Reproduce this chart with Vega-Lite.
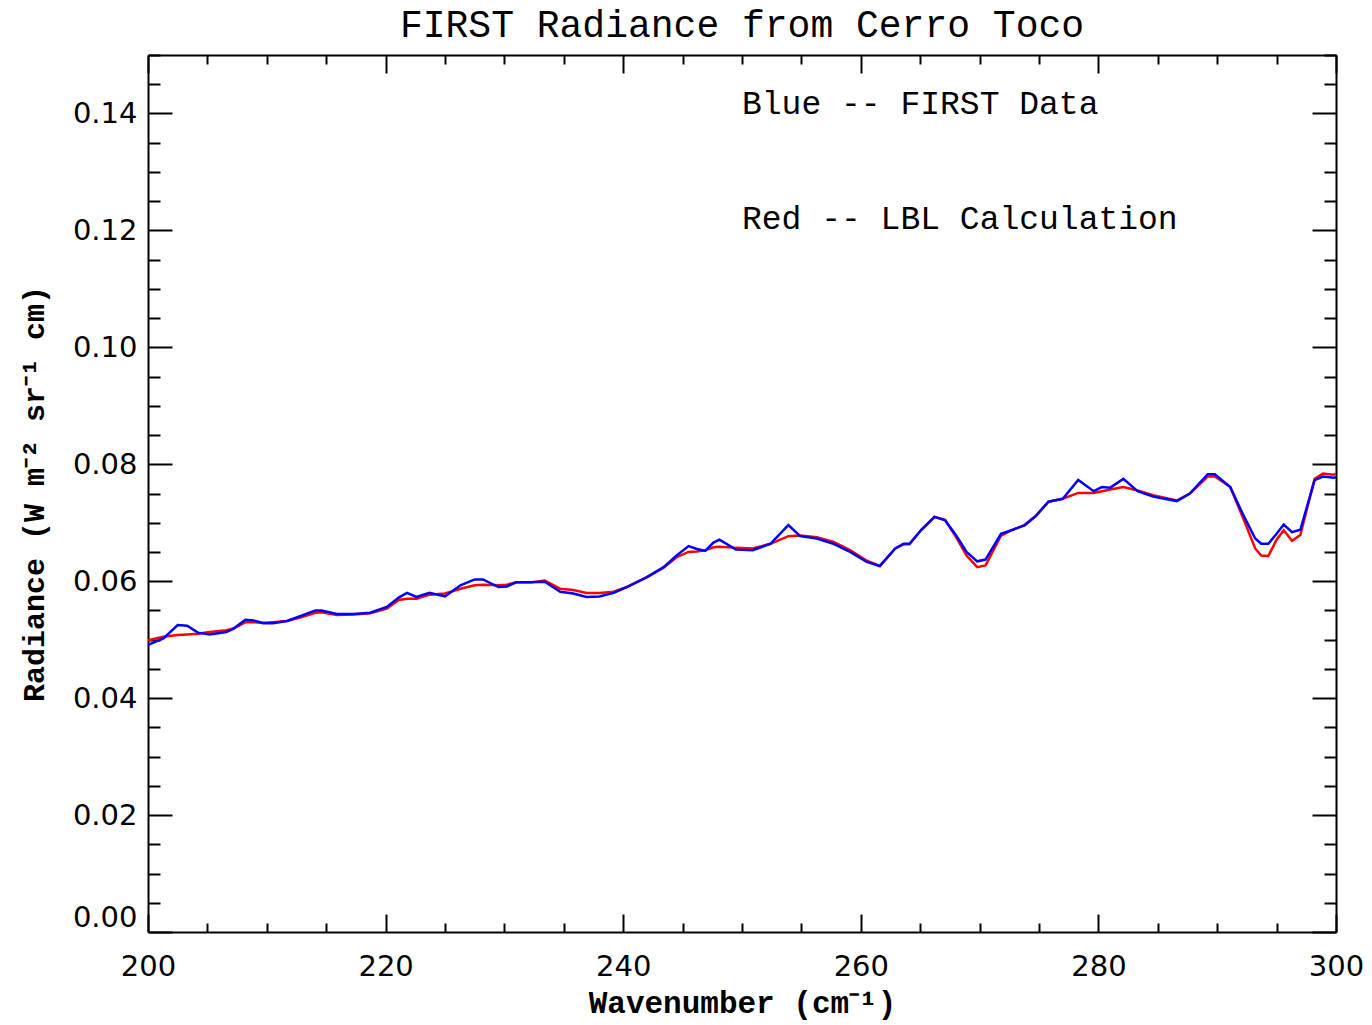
{
  "$schema": "https://vega.github.io/schema/vega-lite/v6.json",
  "width": 1188,
  "height": 877,
  "autosize": {"type": "none"},
  "padding": {"left": 148, "top": 55, "right": 36, "bottom": 93},
  "background": "white",
  "title": {"text": "FIRST Radiance from Cerro Toco", "font": "Liberation Mono", "fontSize": 38, "fontWeight": "normal", "color": "black", "anchor": "middle", "offset": 9},
  "config": {"view": {"stroke": null}},
  "datasets": {
    "spec": [
      {"wn": 200.0, "first": 0.0491, "lbl": 0.0499},
      {"wn": 201.3, "first": 0.0502, "lbl": 0.0505},
      {"wn": 202.5, "first": 0.0525, "lbl": 0.0508},
      {"wn": 203.3, "first": 0.0524, "lbl": 0.0509},
      {"wn": 204.2, "first": 0.0512, "lbl": 0.0510},
      {"wn": 205.2, "first": 0.0509, "lbl": 0.0513},
      {"wn": 206.6, "first": 0.0513, "lbl": 0.0516},
      {"wn": 207.2, "first": 0.0519, "lbl": 0.0519},
      {"wn": 208.2, "first": 0.0534, "lbl": 0.0530},
      {"wn": 208.9, "first": 0.0533, "lbl": 0.0530},
      {"wn": 209.7, "first": 0.0528, "lbl": 0.0529},
      {"wn": 210.5, "first": 0.0528, "lbl": 0.0530},
      {"wn": 211.7, "first": 0.0532, "lbl": 0.0532},
      {"wn": 212.8, "first": 0.0540, "lbl": 0.0538},
      {"wn": 214.1, "first": 0.0550, "lbl": 0.0546},
      {"wn": 214.6, "first": 0.0550, "lbl": 0.0547},
      {"wn": 215.9, "first": 0.0544, "lbl": 0.0542},
      {"wn": 217.3, "first": 0.0544, "lbl": 0.0543},
      {"wn": 218.7, "first": 0.0546, "lbl": 0.0545},
      {"wn": 220.1, "first": 0.0556, "lbl": 0.0553},
      {"wn": 221.1, "first": 0.0572, "lbl": 0.0568},
      {"wn": 221.8, "first": 0.0580, "lbl": 0.0570},
      {"wn": 222.6, "first": 0.0573, "lbl": 0.0570},
      {"wn": 223.7, "first": 0.0580, "lbl": 0.0577},
      {"wn": 225.0, "first": 0.0574, "lbl": 0.0579},
      {"wn": 226.3, "first": 0.0593, "lbl": 0.0587},
      {"wn": 227.5, "first": 0.0603, "lbl": 0.0593},
      {"wn": 228.2, "first": 0.0603, "lbl": 0.0594},
      {"wn": 229.5, "first": 0.0590, "lbl": 0.0593},
      {"wn": 230.2, "first": 0.0591, "lbl": 0.0594},
      {"wn": 231.0, "first": 0.0598, "lbl": 0.0598},
      {"wn": 232.2, "first": 0.0598, "lbl": 0.0598},
      {"wn": 233.4, "first": 0.0599, "lbl": 0.0601},
      {"wn": 234.7, "first": 0.0582, "lbl": 0.0587},
      {"wn": 235.8, "first": 0.0579, "lbl": 0.0585},
      {"wn": 236.9, "first": 0.0573, "lbl": 0.0580},
      {"wn": 238.0, "first": 0.0574, "lbl": 0.0580},
      {"wn": 239.2, "first": 0.0580, "lbl": 0.0582},
      {"wn": 240.3, "first": 0.0590, "lbl": 0.0590},
      {"wn": 242.0, "first": 0.0607, "lbl": 0.0607},
      {"wn": 243.4, "first": 0.0624, "lbl": 0.0623},
      {"wn": 244.5, "first": 0.0644, "lbl": 0.0641},
      {"wn": 245.5, "first": 0.0660, "lbl": 0.0650},
      {"wn": 246.2, "first": 0.0655, "lbl": 0.0651},
      {"wn": 246.9, "first": 0.0652, "lbl": 0.0653},
      {"wn": 247.6, "first": 0.0666, "lbl": 0.0658},
      {"wn": 248.1, "first": 0.0671, "lbl": 0.0659},
      {"wn": 249.5, "first": 0.0654, "lbl": 0.0657},
      {"wn": 250.9, "first": 0.0653, "lbl": 0.0656},
      {"wn": 252.4, "first": 0.0664, "lbl": 0.0664},
      {"wn": 253.9, "first": 0.0696, "lbl": 0.0677},
      {"wn": 254.9, "first": 0.0677, "lbl": 0.0678},
      {"wn": 256.3, "first": 0.0673, "lbl": 0.0675},
      {"wn": 257.7, "first": 0.0664, "lbl": 0.0667},
      {"wn": 259.1, "first": 0.0650, "lbl": 0.0653},
      {"wn": 260.5, "first": 0.0633, "lbl": 0.0635},
      {"wn": 261.6, "first": 0.0626, "lbl": 0.0626},
      {"wn": 262.9, "first": 0.0656, "lbl": 0.0656},
      {"wn": 263.6, "first": 0.0664, "lbl": 0.0663},
      {"wn": 264.1, "first": 0.0664, "lbl": 0.0663},
      {"wn": 265.1, "first": 0.0688, "lbl": 0.0688},
      {"wn": 266.2, "first": 0.0710, "lbl": 0.0710},
      {"wn": 267.1, "first": 0.0704, "lbl": 0.0705},
      {"wn": 268.1, "first": 0.0676, "lbl": 0.0673},
      {"wn": 268.9, "first": 0.0650, "lbl": 0.0644},
      {"wn": 269.8, "first": 0.0634, "lbl": 0.0624},
      {"wn": 270.5, "first": 0.0637, "lbl": 0.0627},
      {"wn": 271.8, "first": 0.0681, "lbl": 0.0678},
      {"wn": 272.8, "first": 0.0688, "lbl": 0.0688},
      {"wn": 273.8, "first": 0.0696, "lbl": 0.0696},
      {"wn": 274.7, "first": 0.0711, "lbl": 0.0711},
      {"wn": 275.8, "first": 0.0736, "lbl": 0.0736},
      {"wn": 277.0, "first": 0.0741, "lbl": 0.0741},
      {"wn": 278.3, "first": 0.0773, "lbl": 0.0751},
      {"wn": 279.6, "first": 0.0754, "lbl": 0.0751},
      {"wn": 280.3, "first": 0.0761, "lbl": 0.0754},
      {"wn": 281.0, "first": 0.0760, "lbl": 0.0757},
      {"wn": 282.1, "first": 0.0775, "lbl": 0.0761},
      {"wn": 283.3, "first": 0.0754, "lbl": 0.0755},
      {"wn": 284.6, "first": 0.0745, "lbl": 0.0747},
      {"wn": 286.6, "first": 0.0737, "lbl": 0.0738},
      {"wn": 287.7, "first": 0.0750, "lbl": 0.0750},
      {"wn": 289.2, "first": 0.0783, "lbl": 0.0779},
      {"wn": 289.8, "first": 0.0783, "lbl": 0.0779},
      {"wn": 291.1, "first": 0.0761, "lbl": 0.0761},
      {"wn": 292.2, "first": 0.0713, "lbl": 0.0707},
      {"wn": 293.2, "first": 0.0673, "lbl": 0.0656},
      {"wn": 293.7, "first": 0.0664, "lbl": 0.0644},
      {"wn": 294.3, "first": 0.0664, "lbl": 0.0643},
      {"wn": 295.0, "first": 0.0681, "lbl": 0.0671},
      {"wn": 295.6, "first": 0.0697, "lbl": 0.0687},
      {"wn": 296.3, "first": 0.0684, "lbl": 0.0669},
      {"wn": 297.0, "first": 0.0688, "lbl": 0.0679},
      {"wn": 298.2, "first": 0.0773, "lbl": 0.0775},
      {"wn": 298.9, "first": 0.0779, "lbl": 0.0784},
      {"wn": 299.8, "first": 0.0777, "lbl": 0.0782},
      {"wn": 300.0, "first": 0.0778, "lbl": 0.0784}
    ],
    "notes": [
      {"wn": 250, "v": 0.1417, "label": "Blue -- FIRST Data"},
      {"wn": 250, "v": 0.1219, "label": "Red -- LBL Calculation"}
    ]
  },
  "layer": [
    {
      "data": {"name": "spec"},
      "mark": {"type": "line", "color": "#ff0000", "strokeWidth": 2.5, "clip": true},
      "encoding": {
        "x": {"field": "wn", "type": "quantitative", "scale": {"domain": [200, 300], "nice": false, "zero": false},
          "axis": {"orient": "top", "title": null, "labels": false,
            "values": [200,205,210,215,220,225,230,235,240,245,250,255,260,265,270,275,280,285,290,295,300],
            "tickSize": {"condition": {"test": "datum.value % 20 === 0", "value": -18}, "value": -9},
            "tickColor": "black", "tickWidth": 2, "domainColor": "black", "domainWidth": 2, "grid": false}},
        "y": {"field": "lbl", "type": "quantitative", "scale": {"domain": [0, 0.15], "nice": false},
          "axis": {"orient": "right", "title": null, "labels": false,
            "values": [0,0.005,0.01,0.015,0.02,0.025,0.03,0.035,0.04,0.045,0.05,0.055,0.06,0.065,0.07,0.075,0.08,0.085,0.09,0.095,0.1,0.105,0.11,0.115,0.12,0.125,0.13,0.135,0.14,0.145,0.15],
            "tickSize": {"condition": {"test": "abs(round(datum.value*1000)) % 20 === 0", "value": -24}, "value": -12},
            "tickColor": "black", "tickWidth": 2, "domainColor": "black", "domainWidth": 2, "grid": false}}
      }
    },
    {
      "data": {"name": "spec"},
      "mark": {"type": "line", "color": "#0000ff", "strokeWidth": 2.5, "clip": true},
      "encoding": {
        "x": {"field": "wn", "type": "quantitative", "scale": {"domain": [200, 300], "nice": false, "zero": false},
          "axis": {"orient": "bottom", "title": "Wavenumber (cm⁻¹)",
            "values": [200,205,210,215,220,225,230,235,240,245,250,255,260,265,270,275,280,285,290,295,300],
            "labelExpr": "datum.value % 20 === 0 ? datum.label : ''",
            "labelFlush": false, "labelOverlap": false,
            "labelFont": "DejaVu Sans", "labelFontSize": 29, "labelColor": "black", "labelPadding": 38,
            "titleFont": "Liberation Mono", "titleFontSize": 31, "titleFontWeight": "bold", "titleColor": "black", "titlePadding": -2,
            "tickSize": {"condition": {"test": "datum.value % 20 === 0", "value": -18}, "value": -9},
            "tickColor": "black", "tickWidth": 2, "domainColor": "black", "domainWidth": 2, "grid": false}},
        "y": {"field": "first", "type": "quantitative", "scale": {"domain": [0, 0.15], "nice": false},
          "axis": {"orient": "left", "title": "Radiance (W m⁻² sr⁻¹ cm)",
            "values": [0,0.005,0.01,0.015,0.02,0.025,0.03,0.035,0.04,0.045,0.05,0.055,0.06,0.065,0.07,0.075,0.08,0.085,0.09,0.095,0.1,0.105,0.11,0.115,0.12,0.125,0.13,0.135,0.14,0.145,0.15],
            "labelExpr": "abs(round(datum.value*1000)) % 20 === 0 ? format(datum.value, '.2f') : ''",
            "labelFlush": true, "labelOverlap": false,
            "labelFont": "DejaVu Sans", "labelFontSize": 29, "labelColor": "black", "labelPadding": 35,
            "titleFont": "Liberation Mono", "titleFontSize": 30, "titleFontWeight": "bold", "titleColor": "black", "titlePadding": 23,
            "tickSize": {"condition": {"test": "abs(round(datum.value*1000)) % 20 === 0", "value": -24}, "value": -12},
            "tickColor": "black", "tickWidth": 2, "domainColor": "black", "domainWidth": 2, "grid": false}}
      }
    },
    {
      "data": {"name": "notes"},
      "mark": {"type": "text", "align": "left", "baseline": "middle", "font": "Liberation Mono", "fontSize": 33, "color": "black"},
      "encoding": {
        "x": {"field": "wn", "type": "quantitative", "scale": {"domain": [200, 300], "nice": false, "zero": false}, "axis": null},
        "y": {"field": "v", "type": "quantitative", "scale": {"domain": [0, 0.15], "nice": false}, "axis": null},
        "text": {"field": "label"}
      }
    }
  ],
  "resolve": {"scale": {"x": "independent", "y": "independent"}, "axis": {"x": "independent", "y": "independent"}}
}
